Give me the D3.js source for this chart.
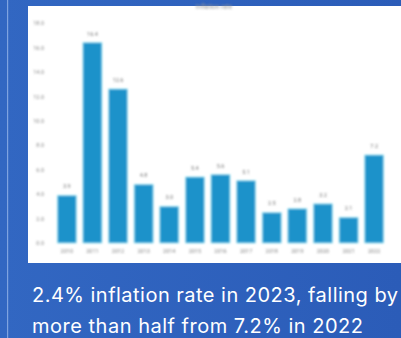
<!DOCTYPE html>
<html>
<head>
<meta charset="utf-8">
<script src="https://cdn.jsdelivr.net/npm/d3@7"></script>
<style>
  html, body { margin: 0; padding: 0; }
  body { width: 401px; height: 338px; overflow: hidden; }
  svg { display: block; }
</style>
</head>
<body>
<svg id="chart" width="401" height="338"></svg>
<script>
// Annual inflation rate (%)
const years = ["2010","2011","2012","2013","2014","2015","2016","2017","2018","2019","2020","2021","2022"];
const rates = [3.9, 16.4, 12.6, 4.8, 3.0, 5.4, 5.6, 5.1, 2.5, 2.8, 3.2, 2.1, 7.2];
const yTicks = [0, 2, 4, 6, 8, 10, 12, 14, 16, 18];
const chartTitle = "Inflation rate";
const captionLines = ["2.4% inflation rate in 2023, falling by", "more than half from 7.2% in 2022"];
const captionWidths = [366, 331];

const svg = d3.select("#chart");
const defs = svg.append("defs");

const grad = defs.append("linearGradient").attr("id", "bg").attr("x1", "0").attr("x2", "1").attr("y1", "0").attr("y2", "0");
grad.append("stop").attr("offset", "0%").attr("stop-color", "#3267c2");
grad.append("stop").attr("offset", "100%").attr("stop-color", "#2b5cb8");

const soft = defs.append("filter").attr("id", "soft").attr("x", "-5%").attr("y", "-5%").attr("width", "110%").attr("height", "110%");
soft.append("feGaussianBlur").attr("stdDeviation", 0.8);

svg.append("rect").attr("width", 401).attr("height", 338).attr("fill", "url(#bg)");
svg.append("rect").attr("x", 7).attr("y", 0).attr("width", 1.2).attr("height", 338).attr("fill", "#7fa3e0");

// white chart panel
svg.append("rect").attr("x", 28).attr("y", 6).attr("width", 373).attr("height", 257).attr("fill", "#ffffff");

const g = svg.append("g").attr("filter", "url(#soft)");

const x = d3.scaleBand().domain(years).range([54, 387]).paddingInner(0.26).paddingOuter(0.13);
const y = d3.scaleLinear().domain([0, 18]).range([243, 23]);

g.append("text").attr("x", 214).attr("y", 9).attr("text-anchor", "middle")
  .attr("font-family", "Roboto, sans-serif").attr("font-size", 6.5).attr("fill", "#999")
  .text(chartTitle);

const yAxis = d3.axisLeft(y).tickValues(yTicks).tickFormat(d3.format(".1f")).tickSize(0).tickPadding(0);
const ya = g.append("g").attr("transform", "translate(44,0)").call(yAxis);
ya.select(".domain").remove();
ya.selectAll("text").attr("font-family", "Roboto, sans-serif").attr("font-size", 5.5).attr("fill", "#888");

const xAxis = d3.axisBottom(x).tickSize(0).tickPadding(0);
const xa = g.append("g").attr("transform", "translate(0,249)").call(xAxis);
xa.select(".domain").remove();
xa.selectAll("text").attr("font-family", "Roboto, sans-serif").attr("font-size", 5.5).attr("fill", "#888");

g.selectAll("rect.bar").data(years).join("rect").attr("class", "bar")
  .attr("x", d => x(d)).attr("width", x.bandwidth())
  .attr("y", (d, i) => y(rates[i])).attr("height", (d, i) => y(0) - y(rates[i]))
  .attr("fill", "#1a92ca").attr("stroke", "#9fe6f5").attr("stroke-width", 0.8);

g.selectAll("text.val").data(years).join("text").attr("class", "val")
  .attr("x", d => x(d) + x.bandwidth() / 2).attr("y", (d, i) => y(rates[i]) - 7)
  .attr("text-anchor", "middle").attr("font-family", "Roboto, sans-serif").attr("font-size", 5.5).attr("fill", "#777")
  .text((d, i) => d3.format(".1f")(rates[i]));

// caption
svg.selectAll("text.cap").data(captionLines).join("text").attr("class", "cap")
  .attr("x", 32).attr("y", (d, i) => 302 + i * 31)
  .attr("font-family", "Inter, sans-serif").attr("font-size", 20)
  .attr("textLength", (d, i) => captionWidths[i]).attr("lengthAdjust", "spacing")
  .attr("fill", "#ffffff").text(d => d);
</script>
</body>
</html>
